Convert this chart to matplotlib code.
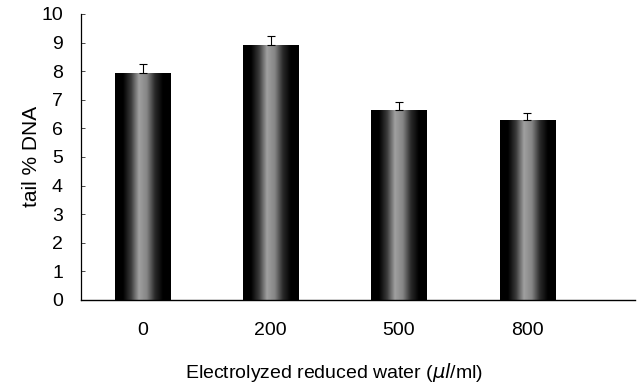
import numpy as np
import matplotlib
matplotlib.use("Agg")
import matplotlib.pyplot as plt
from matplotlib.colors import LinearSegmentedColormap

plt.rcParams['font.family'] = ['Liberation Sans', 'DejaVu Sans']

# data
doses = ['0', '200', '500', '800']
tail_dna = [7.95, 8.9, 6.65, 6.3]
err = [0.3, 0.32, 0.28, 0.25]

fig = plt.figure(figsize=(6.38, 3.87), dpi=100)
ax = fig.add_axes([0.127, 0.225, 0.868, 0.739])

x = np.arange(len(doses))
bars = ax.bar(x, tail_dna, width=0.43, color='black', zorder=2)
ax.errorbar(x, tail_dna, yerr=[np.zeros(len(err)), err], fmt='none',
            ecolor='black', elinewidth=0.8, capsize=3, capthick=0.8, zorder=3)

# cylinder-like shading: dark edges, grey centre
cmap = LinearSegmentedColormap.from_list(
    'cyl', ['#000000', '#000000', '#3a3a3a', '#a0a0a0', '#858585', '#2a2a2a', '#000000', '#000000'])
grad = np.linspace(0, 1, 256).reshape(1, -1)
for b in bars:
    x0, y0 = b.get_x(), b.get_y()
    im = ax.imshow(grad, cmap=cmap, aspect='auto', zorder=2.5,
                   extent=[x0, x0 + b.get_width(), y0, y0 + b.get_height()])
    im.set_clip_path(b)

ax.set_xlim(-0.48, 3.84)
ax.set_ylim(0, 10)
ax.set_yticks(range(0, 11))
ax.set_xticks(x)
ax.set_xticklabels(doses)
ax.tick_params(axis='y', direction='in', length=3, width=0.5, labelsize=14, pad=13)
ax.tick_params(axis='x', length=0, labelsize=14, pad=16)
for s in ['top', 'right']:
    ax.spines[s].set_visible(False)
ax.spines['left'].set_linewidth(0.9)
ax.spines['bottom'].set_linewidth(1.0)

ax.set_ylabel('tail % DNA', fontsize=15, labelpad=0)
ax.set_xlabel('Electrolyzed reduced water ($\\mu l$/ml)', fontsize=14)
ax.xaxis.set_label_coords(0.457, -0.215)

fig.savefig('out.png', dpi=100)
